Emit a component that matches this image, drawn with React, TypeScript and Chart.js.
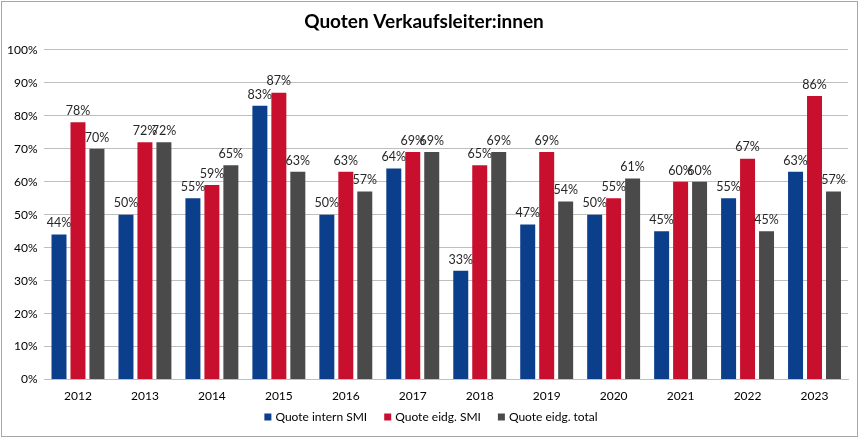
import React, { useEffect, useRef } from "react";
import { Chart, registerables } from "chart.js";

Chart.register(...registerables);

const years = ["2012", "2013", "2014", "2015", "2016", "2017", "2018", "2019", "2020", "2021", "2022", "2023"];
const quoteInternSMI = [44, 50, 55, 83, 50, 64, 33, 47, 50, 45, 55, 63];
const quoteEidgSMI = [78, 72, 59, 87, 63, 69, 65, 69, 55, 60, 67, 86];
const quoteEidgTotal = [70, 72, 65, 63, 57, 69, 69, 54, 61, 60, 45, 57];
const seriesNames = ["Quote intern SMI", "Quote eidg. SMI", "Quote eidg. total"];
const seriesColors = ["#0b3f8c", "#c8102e", "#4a4a4a"];
const titleText = "Quoten Verkaufsleiter:innen";

const FONT = "Lato, 'Open Sans', sans-serif";

const labelPlugin = {
  id: "valueLabels",
  afterDatasetsDraw(chart: any) {
    const ctx = chart.ctx;
    ctx.save();
    ctx.font = `12.5px ${FONT}`;
    ctx.fillStyle = "#262626";
    ctx.textAlign = "center";
    ctx.textBaseline = "bottom";
    chart.data.datasets.forEach((ds: any, i: number) => {
      const meta = chart.getDatasetMeta(i);
      meta.data.forEach((el: any, j: number) => {
        ctx.fillText(ds.data[j] + "%", el.x, el.y - 5);
      });
    });
    ctx.restore();
  },
};

const legendPlugin = {
  id: "customLegend",
  afterDraw(chart: any) {
    const ctx = chart.ctx;
    ctx.save();
    ctx.font = `12px ${FONT}`;
    ctx.textBaseline = "middle";
    ctx.textAlign = "left";
    const box = 7;
    const boxGap = 4;
    const itemGap = 17;
    const datasets = chart.data.datasets;
    const widths = datasets.map((ds: any) => box + boxGap + ctx.measureText(ds.label).width);
    const total = widths.reduce((a: number, b: number) => a + b, 0) + itemGap * (datasets.length - 1);
    let x = chart.width / 2 - total / 2 + 1;
    const y = 417;
    datasets.forEach((ds: any, i: number) => {
      ctx.fillStyle = ds.backgroundColor;
      ctx.fillRect(x, y - box / 2, box, box);
      ctx.fillStyle = "#000";
      ctx.fillText(ds.label, x + box + boxGap, y + 0.5);
      x += widths[i] + itemGap;
    });
    ctx.restore();
  },
};

const borderPlugin = {
  id: "outerBorder",
  afterDraw(chart: any) {
    const ctx = chart.ctx;
    ctx.save();
    ctx.strokeStyle = "#a6a6a6";
    ctx.lineWidth = 1;
    ctx.strokeRect(1.5, 1.5, chart.width - 4, chart.height - 3);
    ctx.restore();
  },
};

export default function App() {
  const ref = useRef<HTMLCanvasElement>(null);
  useEffect(() => {
    document.body.style.margin = "0";
    const chart = new Chart(ref.current!, {
      type: "bar",
      data: {
        labels: years,
        datasets: [
          { label: seriesNames[0], data: quoteInternSMI, backgroundColor: seriesColors[0] },
          { label: seriesNames[1], data: quoteEidgSMI, backgroundColor: seriesColors[1] },
          { label: seriesNames[2], data: quoteEidgTotal, backgroundColor: seriesColors[2] },
        ],
      },
      options: {
        responsive: false,
        animation: false,
        layout: { padding: { left: 0, right: 12, top: 4, bottom: 26 } },
        datasets: { bar: { categoryPercentage: 0.85, barPercentage: 0.79 } },
        plugins: {
          title: {
            display: true,
            text: titleText,
            font: { family: FONT, size: 19, weight: "bold" },
            color: "#000",
            padding: { top: 6, bottom: 17 },
          },
          legend: { display: false },
          tooltip: { enabled: false },
        },
        scales: {
          x: {
            grid: { display: false, drawTicks: false },
            border: { color: "#bfbfbf" },
            ticks: { font: { family: FONT, size: 12 }, color: "#000", padding: 9 },
          },
          y: {
            min: 0,
            max: 100,
            ticks: {
              stepSize: 10,
              font: { family: FONT, size: 12 },
              color: "#000",
              padding: 7,
              callback: (v: any) => v + "%",
            },
            grid: { color: "#bfbfbf", drawTicks: false },
            border: { display: false },
          },
        },
      },
      plugins: [labelPlugin, legendPlugin, borderPlugin],
    });
    return () => chart.destroy();
  }, []);
  return <canvas ref={ref} width={860} height={438} />;
}
